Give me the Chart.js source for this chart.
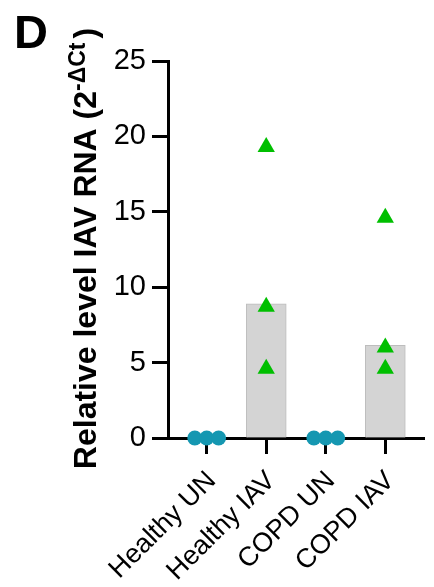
<!DOCTYPE html>
<html>
<head>
<meta charset="utf-8">
<script src="https://cdn.jsdelivr.net/npm/chart.js@4.4.0/dist/chart.umd.min.js"></script>
<style>
  html, body { margin: 0; padding: 0; background: #fff; }
  #wrap { position: relative; width: 434px; height: 587px; }
  #panel { position: absolute; left: 14px; top: 8px; font: bold 47px "Liberation Sans", Arial, sans-serif; line-height: 1; color: #000; }
</style>
</head>
<body>
<div id="wrap">
  <canvas id="chart" width="434" height="587"></canvas>
  <div id="panel">D</div>
</div>
<script>
// Datos del gráfico
const groups = ['Healthy UN', 'Healthy IAV', 'COPD UN', 'COPD IAV'];
const medians = [0, 8.9, 0, 6.15];
const healthyUN = [0, 0, 0];
const healthyIAV = [19.3, 8.7, 4.6];
const copdUN = [0, 0, 0];
const copdIAV = [14.6, 6.0, 4.6];
const unJitter = [-0.2, 0, 0.2];
const yTicks = [0, 5, 10, 15, 20, 25];

const colors = {
    teal: '#1597b1',
    green: '#00bf00',
    bar: '#d4d4d4',
    barEdge: '#bdbdbd'
};

const font = '"Liberation Sans", Arial, sans-serif';

// Título del eje Y con superíndice
const yTitle = {
    id: 'yTitle',
    afterDraw(chart) {
        const ctx = chart.ctx, a = chart.chartArea;
        const main = 'Relative level IAV RNA (2', sup = '-ΔCt', close = ')';
        const big = 'bold 32px ' + font, small = 'bold 23px ' + font;
        const gap = 4;
        ctx.save();
        ctx.font = big;
        const w1 = ctx.measureText(main).width, w3 = ctx.measureText(close).width;
        ctx.font = small;
        const w2 = ctx.measureText(sup).width;
        ctx.translate(96, (a.top + a.bottom) / 2 - 1);
        ctx.rotate(-Math.PI / 2);
        ctx.fillStyle = '#000';
        ctx.textAlign = 'left';
        ctx.textBaseline = 'alphabetic';
        let x = -(w1 + w2 + w3 + gap) / 2;
        ctx.font = big; ctx.fillText(main, x, 0); x += w1;
        ctx.font = small; ctx.fillText(sup, x, -11); x += w2 + gap;
        ctx.font = big; ctx.fillText(close, x, 0);
        ctx.restore();
    }
};

const pts = (vals, i, jit) => vals.map((v, k) => ({ x: i + (jit ? jit[k] : 0), y: v }));

const axisGrid = { offset: false, drawOnChartArea: false, drawTicks: true, tickLength: 16, tickWidth: 3, tickColor: '#000' };

new Chart(document.getElementById('chart').getContext('2d'), {
    type: 'bar',
    data: {
        datasets: [
            { type: 'scatter', data: pts(healthyUN, 0, unJitter), pointStyle: 'circle', pointRadius: 7.5, backgroundColor: colors.teal, borderColor: colors.teal, borderWidth: 0, clip: false },
            { type: 'scatter', data: pts(copdUN, 2, unJitter), pointStyle: 'circle', pointRadius: 7.5, backgroundColor: colors.teal, borderColor: colors.teal, borderWidth: 0, clip: false },
            { type: 'scatter', data: pts(healthyIAV, 1), pointStyle: 'triangle', pointRadius: 10, backgroundColor: colors.green, borderColor: colors.green, borderWidth: 0, clip: false },
            { type: 'scatter', data: pts(copdIAV, 3), pointStyle: 'triangle', pointRadius: 10, backgroundColor: colors.green, borderColor: colors.green, borderWidth: 0, clip: false },
            { type: 'bar', data: medians.map((v, i) => ({ x: i, y: v })), backgroundColor: colors.bar, borderColor: colors.barEdge, borderWidth: 1, barThickness: 40 }
        ]
    },
    options: {
        responsive: false,
        animation: false,
        layout: { padding: { top: 61, right: 1, left: 0, bottom: 0 } },
        plugins: { legend: { display: false }, tooltip: { enabled: false } },
        scales: {
            x: {
                type: 'linear',
                offset: false,
                min: -0.65,
                max: 3.65,
                afterBuildTicks: s => { s.ticks = groups.map((_, i) => ({ value: i })); },
                afterFit: s => { s.height = 149; s.paddingLeft = 0; s.paddingRight = 0; },
                border: { display: true, color: '#000', width: 3 },
                grid: axisGrid,
                ticks: {
                    color: '#000',
                    minRotation: 45,
                    maxRotation: 45,
                    padding: 11,
                    labelOffset: 5,
                    font: { family: font, size: 27 },
                    callback: v => groups[v]
                }
            },
            y: {
                min: 0,
                max: 25,
                afterBuildTicks: s => { s.ticks = yTicks.map(v => ({ value: v })); },
                afterFit: s => { s.width = 168; },
                border: { display: true, color: '#000', width: 3 },
                grid: axisGrid,
                ticks: { color: '#000', padding: 6, font: { family: font, size: 29 } }
            }
        }
    },
    plugins: [yTitle]
});
</script>
</body>
</html>
